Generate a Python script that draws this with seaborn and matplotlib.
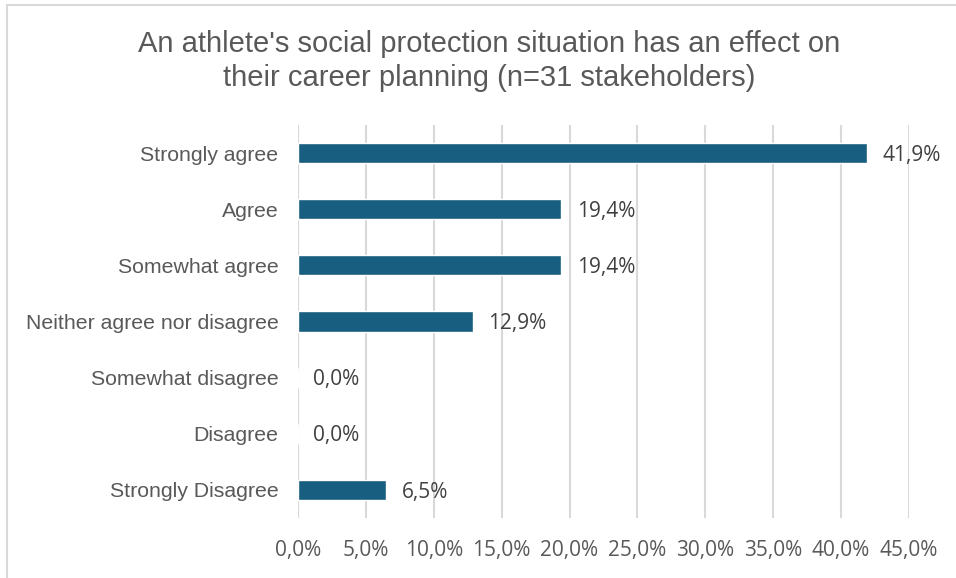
import matplotlib
matplotlib.use("Agg")
import matplotlib.pyplot as plt
from matplotlib.lines import Line2D
import seaborn as sns
import pandas as pd

# Survey responses (share of 31 stakeholders, %)
categories = [
    "Strongly agree",
    "Agree",
    "Somewhat agree",
    "Neither agree nor disagree",
    "Somewhat disagree",
    "Disagree",
    "Strongly Disagree",
]
shares = [41.9, 19.4, 19.4, 12.9, 0.0, 0.0, 6.5]
x_ticks = [0, 5, 10, 15, 20, 25, 30, 35, 40, 45]
title_text = ("An athlete's social protection situation has an effect on\n"
              "their career planning (n=31 stakeholders)")

df = pd.DataFrame({"category": categories, "share": shares})

sns.set_theme(style="white")
plt.rcParams["font.family"] = ["Liberation Sans", "DejaVu Sans"]

fig = plt.figure(figsize=(9.56, 5.78), dpi=100)
ax = fig.add_axes([298 / 956, 1 - 518 / 578, (909 - 298) / 956, (518 - 125) / 578])

bar_color = "#185e80"
sns.barplot(data=df, x="share", y="category", orient="h", color=bar_color,
            width=0.36, ax=ax, saturation=1, zorder=3)

ax.set_xlim(0, 45)
ax.set_ylim(len(categories) - 0.5, -0.5)
ax.set_xticks(x_ticks)
ax.set_xticklabels([f"{t:.1f}%".replace(".", ",") for t in x_ticks],
                   fontfamily="Open Sans", fontsize=15, color="#595959")
ax.tick_params(axis="x", length=0, pad=16)
ax.tick_params(axis="y", length=0, pad=14, labelsize=15.3, labelcolor="#595959")
ax.set_xlabel("")
ax.set_ylabel("")
for s in ax.spines.values():
    s.set_visible(False)
ax.grid(axis="x", color="#d9d9d9", linewidth=1.5, zorder=0)
ax.grid(axis="y", visible=False)

# Value labels at the end of each bar
for i, v in enumerate(shares):
    ax.annotate(f"{v:.1f}%".replace(".", ","), xy=(v, i), xytext=(11, -1.5),
                textcoords="offset points", va="center", ha="left",
                fontfamily="Open Sans", fontsize=15, color="#404040")

fig.text(0.512, 1 - 61 / 578, title_text, ha="center", va="center",
         fontsize=21, color="#595959", linespacing=1.27)

# Chart frame
fig.add_artist(Line2D([7 / 956, 7 / 956], [0, 1 - 4.5 / 578], transform=fig.transFigure,
                      color="#d9d9d9", linewidth=1.5))
fig.add_artist(Line2D([7 / 956, 1], [1 - 4.5 / 578, 1 - 4.5 / 578], transform=fig.transFigure,
                      color="#d9d9d9", linewidth=1.5))

fig.savefig("out.png", dpi=100)
